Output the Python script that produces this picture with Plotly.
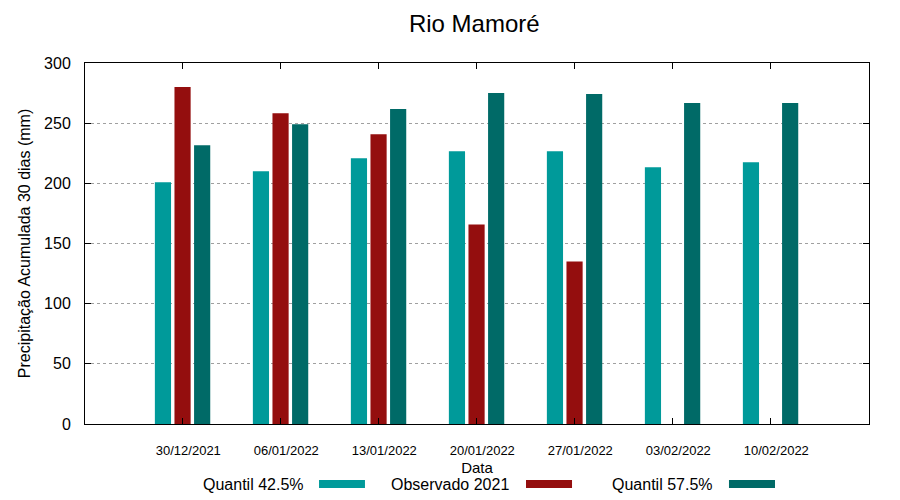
import plotly.graph_objects as go

title = "Rio Mamoré"
dates = ["30/12/2021", "06/01/2022", "13/01/2022", "20/01/2022",
         "27/01/2022", "03/02/2022", "10/02/2022"]
series_names = ["Quantil 42.5%", "Observado 2021", "Quantil 57.5%"]
q425 = [200.8, 210.0, 220.8, 226.7, 226.7, 213.3, 217.5]
obs2021 = [280.0, 258.3, 240.8, 165.8, 135.0, None, None]
q575 = [231.7, 249.2, 261.7, 275.0, 274.2, 266.7, 266.7]

colors = ["#009a9a", "#940e0e", "#006a67"]
offsets = [-0.28, -0.08, 0.12]
FONT = "Liberation Sans, Arial, sans-serif"

fig = go.Figure()
for name, vals, col, off in zip(series_names, [q425, obs2021, q575], colors, offsets):
    fig.add_trace(go.Bar(x=dates, y=vals, name=name, marker=dict(color=col, line=dict(width=0)),
                         width=0.165, offset=off, showlegend=False))

# custom gnuplot-like legend: text then swatch
leg = [(0.2819, 0.2985, 0.3571), (0.5434, 0.5625, 0.6212), (0.8036, 0.8214, 0.8801)]
for name, col, (tx, s0, s1) in zip(series_names, colors, leg):
    fig.add_annotation(x=tx, y=-0.168, xref="paper", yref="paper", text=name, showarrow=False,
                       xanchor="right", yanchor="middle", font=dict(size=16, color="#000", family=FONT))
    fig.add_shape(type="rect", xref="paper", yref="paper", x0=s0, x1=s1, y0=-0.1551, y1=-0.1773,
                  fillcolor=col, line=dict(width=0))

fig.update_layout(
    width=900, height=500,
    margin=dict(l=85, r=31, t=63, b=76),
    paper_bgcolor="white", plot_bgcolor="white",
    barmode="overlay",
    font=dict(family=FONT, color="#000"),
    title=dict(text=title, x=0.527, xanchor="center", y=0.952, yanchor="middle",
               font=dict(size=24, family=FONT, color="#000")),
)
fig.update_xaxes(type="category", range=[-0.993, 7.007], showline=True, linecolor="#000", linewidth=1,
                 mirror="allticks", ticks="inside", ticklen=6, tickcolor="#000",
                 tickfont=dict(size=13, family=FONT), showgrid=False, ticklabelstandoff=14,
                 ticklabelshift=6,
                 title=dict(text="Data", font=dict(size=15, family=FONT), standoff=5))
fig.update_yaxes(range=[0, 300], dtick=50, showline=True, linecolor="#000", linewidth=1,
                 mirror="allticks", ticks="inside", ticklen=6, tickcolor="#000",
                 tickfont=dict(size=16, family=FONT), showgrid=True, gridcolor="#a0a0a0",
                 griddash="dot", gridwidth=1, zeroline=False, ticklabelstandoff=10,
                 title=dict(text="Precipitação Acumulada 30 dias (mm)", font=dict(size=16, family=FONT), standoff=9))

fig.write_html("out.html", config={"displayModeBar": False},
               post_script="document.body.style.margin='0';document.body.style.padding='0';")
